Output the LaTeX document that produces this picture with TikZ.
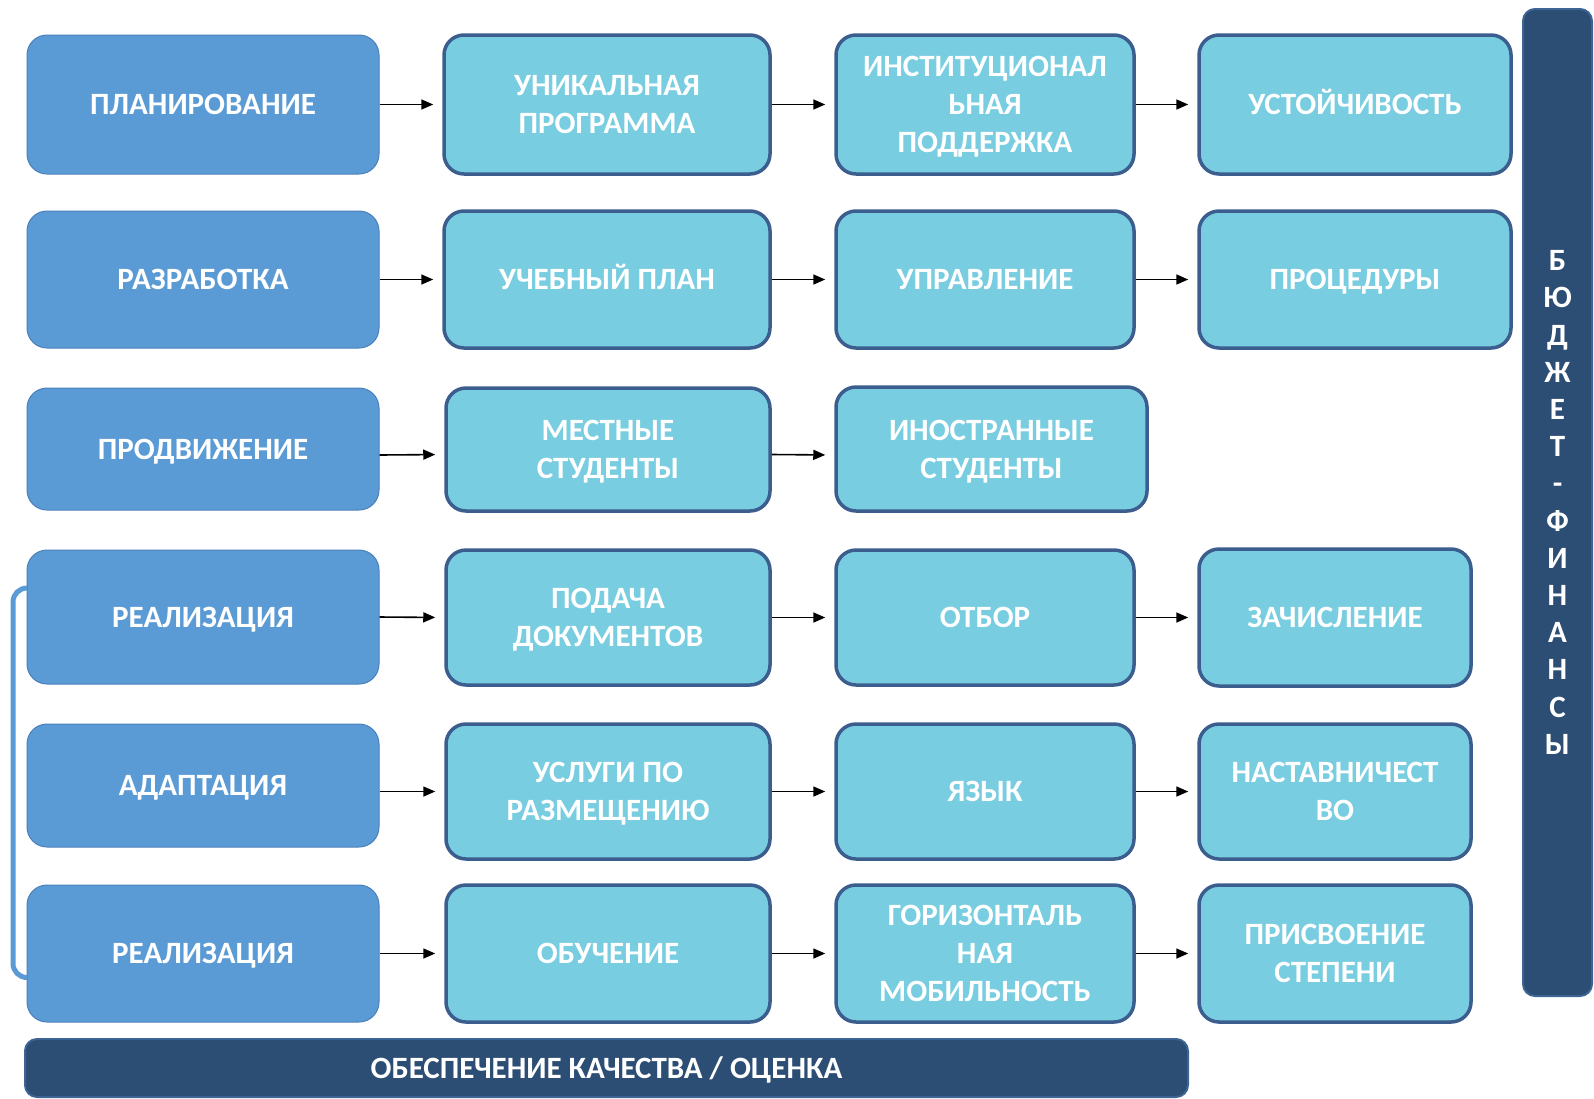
\documentclass[tikz,border=0pt]{standalone}
\usepackage{fontspec}
\setmainfont{Carlito}
\usetikzlibrary{arrows.meta,calc}
\definecolor{lblue}{RGB}{91,155,213}
\definecolor{lblueb}{RGB}{74,128,186}
\definecolor{cyanf}{RGB}{120,205,224}
\definecolor{cyanb}{RGB}{59,94,143}
\definecolor{darkf}{RGB}{44,77,116}
\definecolor{darkb}{RGB}{62,100,148}
\tikzset{
  boxfont/.style={font=\fontsize{31}{38}\selectfont\bfseries},
  leftbox/.style={draw=lblueb, line width=1pt, fill=lblue, rounded corners=20pt, text=white, inner sep=0pt, boxfont},
  midbox/.style={draw=cyanb, line width=3.5pt, fill=cyanf, rounded corners=20pt, text=white, inner sep=0pt, boxfont},
  darkbar/.style={draw=darkb, line width=2pt, fill=darkf, rounded corners=12pt, text=white, inner sep=0pt},
  arr/.style={-{Triangle[length=12pt,width=10pt]}, line width=1.6pt, black, shorten >=9pt},
  br/.style={draw=lblue, line width=5pt, rounded corners=14pt}
}
% box: name, x1, y1, x2, y2, style, text
\newcommand{\mybox}[7]{%
  \node[#6, minimum width={#4-#2}, minimum height={#5-#3}] (#1) at ({(#2+#4)/2},{(#3+#5)/2})
    {\raisebox{-2.6pt}[\height][\depth]{\begin{tabular}{@{}c@{}}#7\end{tabular}}};}
\begin{document}
\begin{tikzpicture}[x=1pt,y=-1pt]
\useasboundingbox (0,0) rectangle (1594,1098);
% row 1
\mybox{a1}{27}{35}{379}{174}{leftbox}{ПЛАНИРОВАНИЕ}
\mybox{a2}{444}{35}{770}{174}{midbox}{УНИКАЛЬНАЯ\\ПРОГРАММА}
\mybox{a3}{836}{35}{1134}{174}{midbox}{ИНСТИТУЦИОНАЛ\\ЬНАЯ\\ПОДДЕРЖКА}
\mybox{a4}{1199}{35}{1511}{174}{midbox}{УСТОЙЧИВОСТЬ}
% row 2
\mybox{b1}{27}{211}{379}{348}{leftbox}{РАЗРАБОТКА}
\mybox{b2}{444}{211}{770}{348}{midbox}{УЧЕБНЫЙ ПЛАН}
\mybox{b3}{836}{211}{1134}{348}{midbox}{УПРАВЛЕНИЕ}
\mybox{b4}{1199}{211}{1511}{348}{midbox}{ПРОЦЕДУРЫ}
% row 3
\mybox{c1}{27}{388}{379}{510}{leftbox}{ПРОДВИЖЕНИЕ}
\mybox{c2}{446}{388}{770}{511}{midbox}{МЕСТНЫЕ\\СТУДЕНТЫ}
\mybox{c3}{836}{387}{1147}{511}{midbox}{ИНОСТРАННЫЕ\\СТУДЕНТЫ}
% row 4
\mybox{d1}{27}{550}{379}{684}{leftbox}{РЕАЛИЗАЦИЯ}
\mybox{d2}{446}{550}{770}{685}{midbox}{ПОДАЧА\\ДОКУМЕНТОВ}
\mybox{d3}{836}{550}{1134}{685}{midbox}{ОТБОР}
\mybox{d4}{1199}{549}{1471}{686}{midbox}{ЗАЧИСЛЕНИЕ}
% row 5
\mybox{e1}{27}{724}{379}{847}{leftbox}{АДАПТАЦИЯ}
\mybox{e2}{446}{724}{770}{859}{midbox}{УСЛУГИ ПО\\РАЗМЕЩЕНИЮ}
\mybox{e3}{836}{724}{1134}{859}{midbox}{ЯЗЫК}
\mybox{e4}{1199}{724}{1471}{859}{midbox}{НАСТАВНИЧЕСТ\\ВО}
% row 6
\mybox{f1}{27}{885}{379}{1022}{leftbox}{РЕАЛИЗАЦИЯ}
\mybox{f2}{446}{885}{770}{1022}{midbox}{ОБУЧЕНИЕ}
\mybox{f3}{836}{885}{1134}{1022}{midbox}{ГОРИЗОНТАЛЬ\\НАЯ\\МОБИЛЬНОСТЬ}
\mybox{f4}{1199}{885}{1471}{1022}{midbox}{ПРИСВОЕНИЕ\\СТЕПЕНИ}
% bars
\mybox{qa}{25}{1039}{1188}{1097}{darkbar, font=\fontsize{31}{38}\selectfont\bfseries}{ОБЕСПЕЧЕНИЕ КАЧЕСТВА / ОЦЕНКА}
\mybox{fin}{1523}{9}{1592}{996}{darkbar, font=\fontsize{31}{37.2}\selectfont\bfseries}{Б\\Ю\\Д\\Ж\\Е\\Т\\-\\Ф\\И\\Н\\А\\Н\\С\\Ы}
% arrows
\foreach \r in {a,b,d,f}{
  \draw[arr] (\r1.east) -- (\r2.west);
  \draw[arr] (\r2.east) -- (\r3.west);
  \draw[arr] (\r3.east) -- (\r4.west);
}
\draw[arr] ([yshift=-6pt]c1.east) -- ([yshift=-5pt]c2.west);
\draw[arr] ([yshift=-5pt]c2.east) -- ([yshift=-6pt]c3.west);
\draw[arr] ([yshift=-6pt]e1.east) -- (e2.west);
\draw[arr] (e2.east) -- (e3.west);
\draw[arr] (e3.east) -- (e4.west);
% bracket
\coordinate (bx) at (13,780);
\draw[br] ([yshift=29pt]d1.west) -| (bx) |- ([yshift=-24pt]f1.west);
\end{tikzpicture}
\end{document}
